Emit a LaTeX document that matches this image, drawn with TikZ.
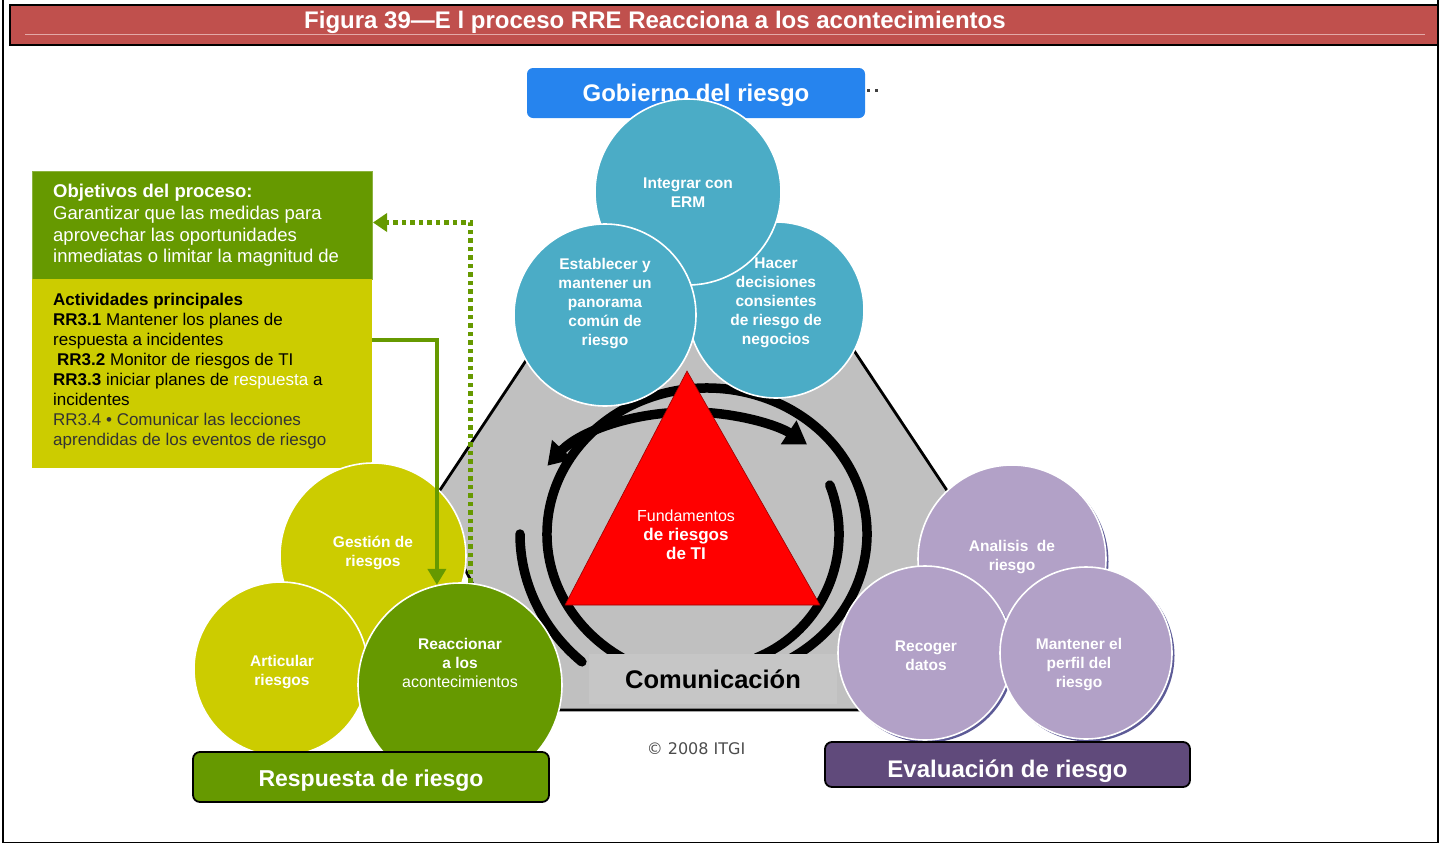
\documentclass[tikz,border=0pt]{standalone}
\usepackage{fontspec}
\setmainfont{Liberation Sans}
\newfontfamily\itgifont{DejaVu Sans}
\usetikzlibrary{arrows.meta,shadows}

\definecolor{titlered}{HTML}{C0504D}
\definecolor{titleline}{HTML}{E3A9A7}
\definecolor{govblue}{HTML}{2684EE}
\definecolor{tealblue}{HTML}{4BACC6}
\definecolor{leafgreen}{HTML}{669900}
\definecolor{mustard}{HTML}{CCCC00}
\definecolor{lilac}{HTML}{B2A1C7}
\definecolor{lilacshade}{HTML}{5D5B97}
\definecolor{plum}{HTML}{604A7B}
\definecolor{hexgray}{HTML}{C0C0C0}
\definecolor{commgray}{HTML}{C6C6C6}

\newcommand{\fsz}[2]{\fontsize{#1}{#2}\selectfont}

\begin{document}
\begin{tikzpicture}[x=1pt, y=-1pt,
    bubble/.style={circle, draw=white, line width=1.6pt, inner sep=0pt},
    bubtext/.style={text=white, align=center, font=\fsz{15.5}{19}\bfseries},
    evshadow/.style={drop shadow={shadow xshift=2.5pt, shadow yshift=-2.5pt, fill=lilacshade, opacity=1}},
    tagbox/.style={rounded corners=7pt, draw=black, line width=1.8pt, text=white, font=\fsz{23}{26}\bfseries, minimum height=50pt},
    ring/.style={black, line width=9.5pt},
    flow/.style={leafgreen, line width=4pt, -{Triangle[length=16pt, width=18pt]}},
    dotflow/.style={leafgreen, line width=4.5pt, dash pattern=on 4.5pt off 4pt, -{Triangle[length=14pt, width=18pt]}}]
\useasboundingbox (0,0) rectangle (1446,844);

% frame and title
\draw[line width=1.5pt] (3,0) -- (3,842.5) -- (1438,842.5) -- (1438,0);
\filldraw[fill=titlered, draw=black, line width=2.2pt] (10,5) rectangle (1438,45);
\draw[titleline, line width=1pt] (25,34.5) -- (1425,34.5);
\node[text=white, font=\fsz{24}{26}\bfseries, anchor=base] (title) at (655,28) {Figura 39—E l proceso RRE Reacciona a los acontecimientos};

% grey hexagon
\filldraw[fill=hexgray, draw=black, line width=2.8pt, line join=round] (541,338) -- (837,325) -- (950,495) -- (870,710) -- (540,710) -- (460,560) -- (438,493) -- cycle;

% rings
\draw[ring] (707,534) ++(60:160 and 146) arc[start angle=60, end angle=-240, x radius=160, y radius=146];
\draw[ring, {Triangle[length=22pt, width=27pt]}-{Triangle[length=22pt, width=27pt]}] (690,530) ++(-147:170 and 118) arc[start angle=-147, end angle=-46.5, x radius=170, y radius=118];
\draw[ring, line cap=round] (707,534) ++(180:187 and 172) arc[start angle=180, end angle=132, x radius=187, y radius=172];
\draw[ring, line cap=round] (707,534) ++(-21.5:132 and 133.5) arc[start angle=-21.5, end angle=68, x radius=132, y radius=133.5];

% red triangle
\filldraw[fill=red, draw=red!60!black, line width=0.6pt] (687,371) -- (820,605) -- (565,605) -- cycle;
\node[text=white, align=center, font=\fsz{17}{19}\bfseries] (fund) at (686,535) {{\mdseries\fsz{16}{19}Fundamentos}\\de riesgos\\de TI};

\node[fill=commgray, minimum width=248pt, minimum height=50pt, inner sep=0pt, text height=19pt, text depth=0pt, font=\fsz{25.5}{28}\bfseries] (comm) at (713,679) {Comunicación};

% governance
\node[fill=govblue, rounded corners=6pt, minimum width=338pt, minimum height=50pt, text height=17pt, text depth=0pt, text=white, font=\fsz{24}{26}\bfseries] (gov) at (696,93) {Gobierno del riesgo};
\draw[black!75, line width=3pt, dash pattern=on 3pt off 5pt] ([xshift=2pt, yshift=3pt]gov.east) -- ++(12,0);
\node[bubble, fill=tealblue, minimum size=176pt] (deci) at (776,310) {};
\node[bubble, fill=tealblue, minimum size=186pt] (erm) at (688,192) {};
\node[bubble, fill=tealblue, minimum size=182pt] (view) at (605,315) {};
\node[bubtext] (erm-t) at (688,192.5) {Integrar con\\ERM};
\node[bubtext] (view-t) at (605,304) {Establecer y\\mantener un\\panorama\\común de\\riesgo};
\node[bubtext] (deci-t) at (776,302.5) {Hacer\\decisiones\\consientes\\de riesgo de\\negocios};

% process box
\node[fill=leafgreen, draw=leafgreen!75!white, line width=1pt, minimum width=340pt, minimum height=108pt, anchor=north west, inner sep=0pt] (obj) at (32,171) {};
\node[fill=mustard, minimum width=340pt, minimum height=189pt, anchor=north west, inner sep=0pt] (act) at (32,279) {};
\node[anchor=north west, inner sep=0pt, align=left, text=white, font=\fsz{18.5}{21.7}] (obj-t) at (53,184) {\textbf{Objetivos del proceso:}\\Garantizar que las medidas para\\aprovechar las oportunidades\\inmediatas o limitar la magnitud de};
\node[anchor=north west, inner sep=0pt, align=left, font=\fsz{17}{20}] (act-t) at (53,292.5) {\textbf{Actividades principales}\\\textbf{RR3.1} Mantener los planes de\\respuesta a incidentes\\\hspace*{4pt}\textbf{RR3.2} Monitor de riesgos de TI\\\textbf{RR3.3} iniciar planes de \textcolor{white}{respuesta} a\\incidentes\\\textcolor{black!80}{RR3.4 • Comunicar las lecciones}\\\textcolor{black!80}{aprendidas de los eventos de riesgo}};

% response
\node[bubble, fill=mustard, minimum size=186pt] (manage) at (373,556) {};
\node[bubble, fill=mustard, minimum size=174pt] (artic) at (281,669) {};
\node[bubble, fill=leafgreen, minimum size=204pt] (react) at (460,685) {};
\node[bubtext] (manage-t) at (373,553) {Gestión de\\riesgos};
\node[bubtext] (artic-t) at (282,672) {Articular\\riesgos};
\node[bubtext] (react-t) at (460,662.5) {Reaccionar\\a los\\{\mdseries\fsz{16}{19}acontecimientos}};

\coordinate (bend) at (437,340);
\draw[flow] (act.east |- bend) -| (react.103);
\draw[dotflow] (react.84) |- ([yshift=3pt]obj.east);

\node[tagbox, fill=leafgreen, minimum width=356pt, text height=19pt, text depth=0pt] (resp) at (371,777) {Respuesta de riesgo};

% evaluation
\node[bubble, fill=lilac, minimum size=188pt, evshadow] (anal) at (1012,559) {};
\node[bubble, fill=lilac, minimum size=174pt, evshadow] (collect) at (925,653) {};
\node[bubble, fill=lilac, minimum size=172pt, evshadow] (profile) at (1086,653) {};
\node[bubtext] (anal-t) at (1012,557.5) {Analisis\ \ de\\riesgo};
\node[bubtext] (collect-t) at (926,656) {Recoger\\datos};
\node[bubtext] (profile-t) at (1079,665) {Mantener el\\perfil del\\riesgo};
\node[tagbox, fill=plum, minimum width=365pt, minimum height=45pt, text height=25pt, text depth=0pt, font=\fsz{24}{26}\bfseries] (eval) at (1007.5,764.5) {Evaluación de riesgo};

\node[text=black!70, font=\itgifont\fsz{16}{18}] (itgi) at (696,749) {© 2008 ITGI};
\end{tikzpicture}
\end{document}
